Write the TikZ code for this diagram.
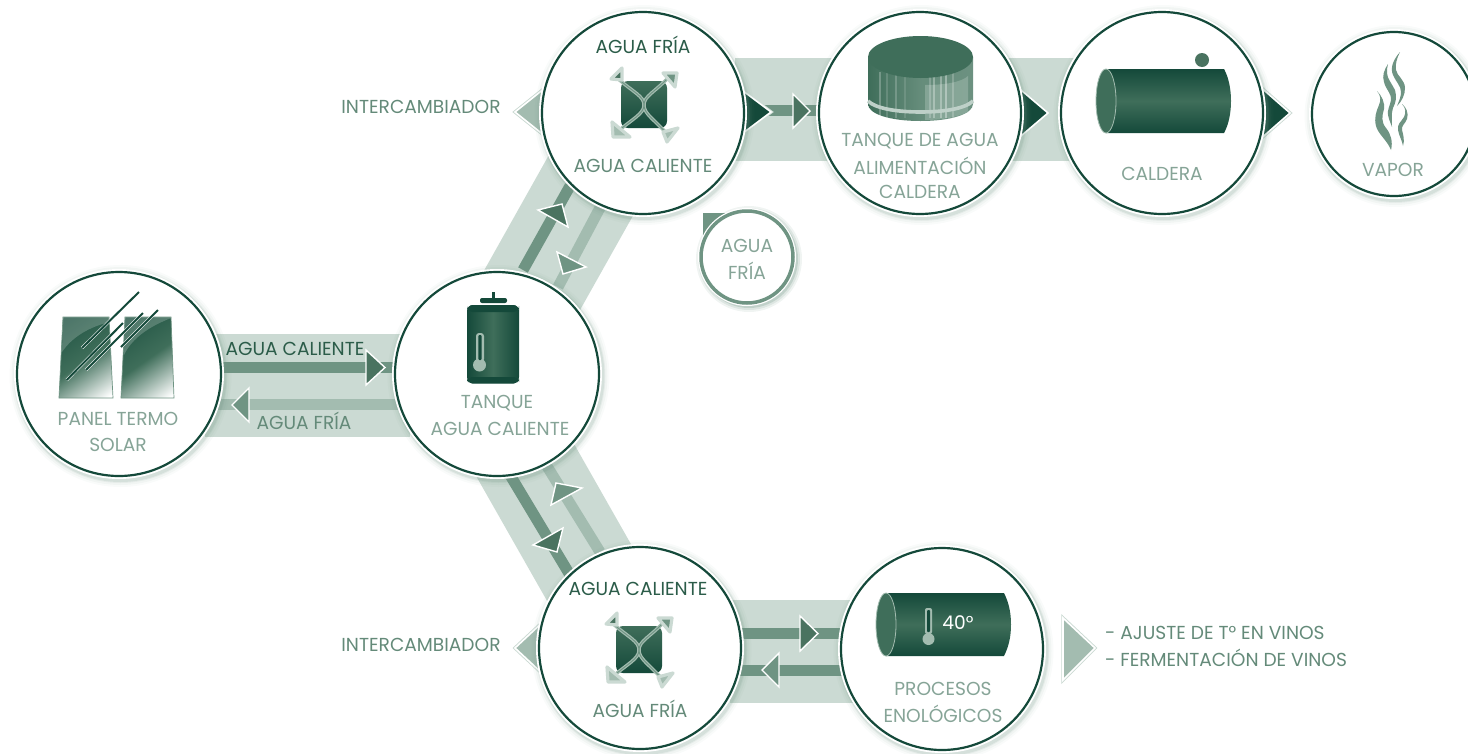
\documentclass[tikz,border=0pt]{standalone}
\usepackage{fontspec}
\setmainfont{Poppins}[FakeStretch=0.99]
\usetikzlibrary{calc}
\definecolor{cdark}{HTML}{14493A}
\definecolor{cmid}{HTML}{3F6E5A}
\definecolor{carrow}{HTML}{4A7360}
\definecolor{cline}{HTML}{6F9483}
\definecolor{clight}{HTML}{A3BCB0}
\definecolor{cband}{HTML}{CBDAD3}
\definecolor{ctext}{HTML}{86A497}
\definecolor{ctextb}{HTML}{648A79}
\definecolor{ctextd}{HTML}{2B5C49}
\tikzset{
  band/.style={line width=103pt,cband},
  wireA/.style={line width=11pt,cline},
  wireB/.style={line width=11pt,clight},
  tri/.style={draw=white,line width=1.4pt,line join=miter,fill=#1},
  bigtri/.style={preaction={draw=cband,line width=3.4pt,line join=miter},draw=white,line width=1.6pt,line join=miter,fill=#1},
  bigtxt/.style={font=\fontsize{18.8}{20}\selectfont,text=#1,inner sep=0pt},
  disc/.style={circle,draw=cdark,line width=2.2pt,fill=white,inner sep=0pt,outer sep=0pt},
  gloss/.style={fill=white,opacity=.2},
  cross/.style={line width=3.4pt,clight},
  crossin/.style={line width=.9pt,cline},
  corner/.style={draw=cband,line width=3.2pt,line join=round,fill=#1},
}
\newcommand\ringdisc[4]{%
  \begin{scope}[shift={(#2,#3)}]
    \foreach \k/\o in {9/.04,7/.06,5/.09,4/.14}{\fill[cline,opacity=\o] (1.5,2) circle[radius=#4+\k];}
    \fill[white] (0,0) circle[radius=#4+3];
    \node[disc,minimum size={2*#4*1pt}] (#1) at (0,0) {};
  \end{scope}}
\newcommand\xchg[2]{%
  \begin{scope}[shift={(#1,#2)}]
    \shade[top color=cmid,bottom color=cdark,rounded corners=7pt] (-23,-24) rectangle (23,23);
    \draw[cross] (-28,-28) .. controls (-10,-12) and (0,-9) .. (0,0) .. controls (0,9) and (10,14) .. (24,30);
    \draw[cross] (27,-30) .. controls (10,-12) and (0,-9) .. (0,0) .. controls (0,9) and (-12,14) .. (-28,28);
    \draw[crossin] (-28,-28) .. controls (-10,-12) and (0,-9) .. (0,0) .. controls (0,9) and (10,14) .. (24,30);
    \draw[crossin] (27,-30) .. controls (10,-12) and (0,-9) .. (0,0) .. controls (0,9) and (-12,14) .. (-28,28);
    \draw[corner=carrow] (-33,-26) -- (-22,-37) -- (-22,-25) -- cycle;
    \draw[corner=cline] (19,-32) -- (33,-32) -- (31,-18) -- cycle;
    \draw[corner=clight] (-32,17) -- (-14,32) -- (-31,32) -- cycle;
    \draw[corner=clight] (19,27) -- (34,23) -- (23,37) -- cycle;
  \end{scope}}
\newcommand\sunpanel[8]{%
  \begin{scope}
    \clip (#1,#2) -- (#3,#4) -- (#5,#6) -- (#7,#8) -- cycle;
    \shade[shading=axis,top color=cdark!70!cmid,bottom color=white,shading angle=35,middle color=cmid] ($(#1,#2)!.5!(#5,#6)+(-44,-44)$) rectangle ($(#1,#2)!.5!(#5,#6)+(44,44)$);
  \end{scope}
  \draw[cline,line width=.7pt] (#1,#2) -- (#3,#4) -- (#5,#6) -- (#7,#8) -- cycle;}
\begin{document}
\begin{tikzpicture}[x=1pt,y=-1pt]
\useasboundingbox (0,0) rectangle (1468,753);
\clip (0,0) rectangle (1468,753);
% named ends of the bands and wires
\coordinate (pb1) at (205,385); \coordinate (pb2) at (410,385);
\coordinate (pw1a) at (215,367.5); \coordinate (pw2a) at (400,367.5);
\coordinate (pw1b) at (215,404.5); \coordinate (pw2b) at (400,404.5);
\coordinate (tb1) at (498.5,350); \coordinate (tb2) at (631,114);
\coordinate (ta1) at (523,270); \coordinate (ta2) at (570,186);
\coordinate (tc1) at (558,287); \coordinate (tc2) at (602,204);
\coordinate (bb1) at (491,400); \coordinate (bb2) at (616,620);
\coordinate (ba1) at (510,475); \coordinate (ba2) at (570,575);
\coordinate (bc1) at (545,463); \coordinate (bc2) at (600,552);
\coordinate (hb1) at (735,109); \coordinate (hb2) at (1075,109);
\coordinate (hw1) at (745,110.5); \coordinate (hw2) at (825,110.5);
\coordinate (rb1) at (730,651.5); \coordinate (rb2) at (855,651.5);
\coordinate (rw1a) at (735,633.5); \coordinate (rw2a) at (850,633.5);
\coordinate (rw1b) at (735,670); \coordinate (rw2b) at (850,670);
% bands
\draw[band] (pb1) -- (pb2);
\draw[band] (tb1) -- (tb2);
\draw[band,line width=101pt] (bb1) -- (bb2);
\draw[band] (hb1) -- (hb2);
\draw[band] (rb1) -- (rb2);
% wires
\draw[wireA] (pw1a) -- (pw2a);
\draw[wireB] (pw1b) -- (pw2b);
\draw[wireA] (ta1) -- (ta2);
\draw[wireB] (tc1) -- (tc2);
\draw[wireA] (ba1) -- (ba2);
\draw[wireB] (bc1) -- (bc2);
\draw[wireA] (hw1) -- (hw2);
\draw[wireA] (rw1a) -- (rw2a);
\draw[wireA] (rw1b) -- (rw2b);
% small arrows on the wires
\draw[tri=carrow] (366,350) -- (385,367.5) -- (366,385) -- cycle;
\draw[tri=cline] (249,388) -- (232,405) -- (249,422) -- cycle;
\draw[tri=carrow] (538,210) -- (562,204) -- (568,227) -- cycle;
\draw[tri=cline] (557,252) -- (586,267) -- (563,274) -- cycle;
\draw[tri=cline] (556,483) -- (582,488) -- (551,505) -- cycle;
\draw[tri=carrow] (563,528) -- (533,545) -- (557,552) -- cycle;
\draw[tri=carrow] (793,94) -- (810,111) -- (793,128) -- cycle;
\draw[tri=carrow] (800,616) -- (818,633.5) -- (800,651) -- cycle;
\draw[tri=cline] (779,653) -- (762,670) -- (779,687) -- cycle;
% big side arrows
\draw[bigtri=cdark] (735,85) -- (771,112) -- (735,139) -- cycle;
\draw[bigtri=cdark] (1015,85) -- (1048,113) -- (1015,141) -- cycle;
\draw[bigtri=cdark] (1258,85) -- (1290,113) -- (1258,141) -- cycle;
\draw[bigtri=clight] (550,84) -- (515,112) -- (550,140) -- cycle;
\draw[bigtri=clight] (545,620) -- (515,648) -- (545,676) -- cycle;
\draw[bigtri=clight] (1063,618) -- (1095,648) -- (1063,680) -- cycle;
% discs
\ringdisc{panel}{119}{374}{102}
\ringdisc{tank}{497}{374}{102}
\ringdisc{xtop}{643}{113}{101}
\ringdisc{feed}{920}{113}{101}
\ringdisc{boiler}{1162}{113}{101}
\ringdisc{vapor}{1394}{114}{82}
\ringdisc{xbot}{640}{648}{101}
\ringdisc{proc}{942}{649}{101}
% small disc
\fill[cline] (703,213) rectangle (732,242);
\foreach \k/\o in {9/.10,7/.15,5/.25}{\fill[cline,opacity=\o] (749,259) circle[radius=44+\k];}
\fill[white] (747,257) circle[radius=49];
\node[disc,draw=cline,line width=3.5pt,minimum size=92pt] (cold) at (747,257) {};
% panel icon
\sunpanel{63}{317}{109}{317}{113}{398}{59}{398}
\sunpanel{125}{317}{171}{317}{174}{398}{121}{398}
\fill[gloss] (63,317) -- (109,317) -- (109.6,322) .. controls (85,328) and (70,340) .. (62,352) -- cycle;
\fill[gloss] (125,317) -- (171,317) -- (171.3,318) .. controls (150,326) and (132,338) .. (124,355) -- cycle;
\foreach \a/\b/\c/\d in {82/348/139/292,66.7/380/123/323,86/370/143/313,121/347/158/310}{
  \draw[white,line width=3pt] (\a,\b) -- (\c,\d);
  \draw[cdark,line width=2pt] (\a,\b) -- (\c,\d);}
% tank icon
\fill[cdark] (491.5,292) rectangle (495,299);
\fill[cdark,rounded corners=2pt] (480,298) rectangle (507,303);
\shade[left color=cdark,right color=cdark,middle color=cmid,rounded corners=6pt] (467,305) rectangle (519,383);
\fill[cdark,rounded corners=6pt] (467,305) -- (519,305) -- (519,312) -- (467,312) -- cycle;
\fill[cdark,rounded corners=5pt] (467,377) -- (519,377) -- (519,383.5) -- (467,383.5) -- cycle;
\fill[clight,rounded corners=3pt] (476,333) rectangle (484,362);
\fill[clight] (479.5,365) circle[radius=6.5];
\fill[cdark,rounded corners=1pt] (478.3,335) rectangle (481.7,360);
% feed tank icon
\shade[left color=cmid,right color=cmid!55!clight,middle color=cline!80!cmid] (868,57) -- (868,104) .. controls (868,114) and (890,121) .. (920.5,121) .. controls (951,121) and (973,114) .. (973,104) -- (973,57) -- cycle;
\fill[clight,opacity=.5] (925,85) .. controls (945,85) and (962,82) .. (968,76) -- (968,112) .. controls (955,118) and (940,120) .. (925,120) -- cycle;
\foreach \xx/\oo in {880/.25,887/.15,896/.2,905/.12,930/.2,934/.3,941/.3,946/.35,953/.2}{\draw[white,opacity=\oo,line width=1.1pt] (\xx,72) -- (\xx,118);}
\draw[clight!70!white,line width=3.6pt] (868,101) .. controls (875,108) and (895,112) .. (920.5,112) .. controls (946,112) and (966,108) .. (973,101);
\fill[cmid] (920.5,57) ellipse[x radius=52.5,y radius=21];
% boiler icon
\shade[top color=cdark,bottom color=cdark,middle color=cmid] (1106,69) -- (1224,69) .. controls (1229,78) and (1231,90) .. (1231,101) .. controls (1231,112) and (1229,124) .. (1224,133) -- (1106,133) -- cycle;
\fill[cmid,draw=clight,line width=.8pt] (1106,101) ellipse[x radius=10,y radius=32];
\fill[carrow] (1202,60) circle[radius=7];
% vapor icon
\fill[cline] (1400,52) .. controls (1393,60) and (1390,68) .. (1393,75) .. controls (1396,82) and (1401,86) .. (1401,92) .. controls (1401,97) and (1399,101) .. (1397,106) .. controls (1402,101) and (1405,95) .. (1405,88) .. controls (1405,80) and (1397,76) .. (1396,70) .. controls (1395,64) and (1397,58) .. (1400,52) -- cycle;
\fill[cline] (1388,64) .. controls (1384,70) and (1382,76) .. (1384,82) .. controls (1386,90) and (1392,94) .. (1391,100) .. controls (1390,106) and (1387,110) .. (1388,115) .. controls (1389,120) and (1391,124) .. (1392,127) .. controls (1392,120) and (1391,114) .. (1393,108) .. controls (1396,102) and (1397,97) .. (1395,90) .. controls (1392,84) and (1387,78) .. (1387,73) .. controls (1387,70) and (1387,67) .. (1388,64) -- cycle;
\fill[cline] (1377,91) .. controls (1381,96) and (1381,100) .. (1379,105) .. controls (1376,112) and (1374,118) .. (1376,126) .. controls (1378,134) and (1387,140) .. (1391,150) .. controls (1393,142) and (1391,134) .. (1386,128) .. controls (1381,122) and (1382,116) .. (1384,109) .. controls (1385,103) and (1382,96) .. (1377,91) -- cycle;
\fill[cline] (1402,104) .. controls (1406,108) and (1406,113) .. (1404,117) .. controls (1401,122) and (1397,124) .. (1398,130) .. controls (1399,136) and (1402,140) .. (1403,146) .. controls (1405,140) and (1403,134) .. (1402,130) .. controls (1401,126) and (1405,124) .. (1407,119) .. controls (1409,113) and (1406,107) .. (1402,104) -- cycle;
% exchanger icons
\xchg{644}{105}
\xchg{639}{650}
% process icon
\shade[top color=cdark,bottom color=cdark,middle color=cmid] (886,593) -- (1004,593) .. controls (1009,603) and (1011,613) .. (1011,624.5) .. controls (1011,636) and (1009,646) .. (1004,656) -- (886,656) -- cycle;
\fill[cmid,draw=clight,line width=.8pt] (886,624.5) ellipse[x radius=10,y radius=31.5];
\fill[clight,rounded corners=2pt] (925,608) rectangle (932,634);
\fill[clight] (928.5,639) circle[radius=6];
\fill[cdark,rounded corners=1pt] (927,610) rectangle (930,632);
% texts
\node[bigtxt=ctextb] (t1) at (421,107) {INTERCAMBIADOR};
\node[bigtxt=ctextb] (t2) at (421,645) {INTERCAMBIADOR};
\node[bigtxt=ctextd] (t3) at (643,45) {AGUA FRÍA};
\node[bigtxt=ctextb] (t4) at (643,166) {AGUA CALIENTE};
\node[bigtxt=ctext] (t5) at (920,141) {TANQUE DE AGUA};
\node[bigtxt=ctext] (t6) at (920,166) {ALIMENTACIÓN};
\node[bigtxt=ctext] (t7) at (920,192) {CALDERA};
\node[bigtxt=ctext] (t8) at (1162,174) {CALDERA};
\node[bigtxt=ctext] (t9) at (1393,170) {VAPOR};
\node[bigtxt=ctext] (t10) at (747,246) {AGUA};
\node[bigtxt=ctext] (t11) at (747,271) {FRÍA};
\node[bigtxt=ctext] (t12) at (118,419) {PANEL TERMO};
\node[bigtxt=ctext] (t13) at (118,445) {SOLAR};
\node[bigtxt=ctextd] (t14) at (295,349) {AGUA CALIENTE};
\node[bigtxt=ctextb] (t15) at (304,421) {AGUA FRÍA};
\node[bigtxt=ctext] (t16) at (497,403) {TANQUE};
\node[bigtxt=ctext] (t17) at (500,429) {AGUA CALIENTE};
\node[bigtxt=ctextd] (t18) at (638,589) {AGUA CALIENTE};
\node[bigtxt=ctextb] (t19) at (640,709) {AGUA FRÍA};
\node[bigtxt=ctext] (t20) at (943,689) {PROCESOS};
\node[bigtxt=ctext] (t21) at (943,714) {ENOLÓGICOS};
\node[bigtxt=white] (t22) at (958,623) {40°};
\node[bigtxt=ctextb,anchor=west] (t23) at (1105,633) {- AJUSTE DE T° EN VINOS};
\node[bigtxt=ctextb,anchor=west] (t24) at (1105,658) {- FERMENTACIÓN DE VINOS};
\end{tikzpicture}
\end{document}
